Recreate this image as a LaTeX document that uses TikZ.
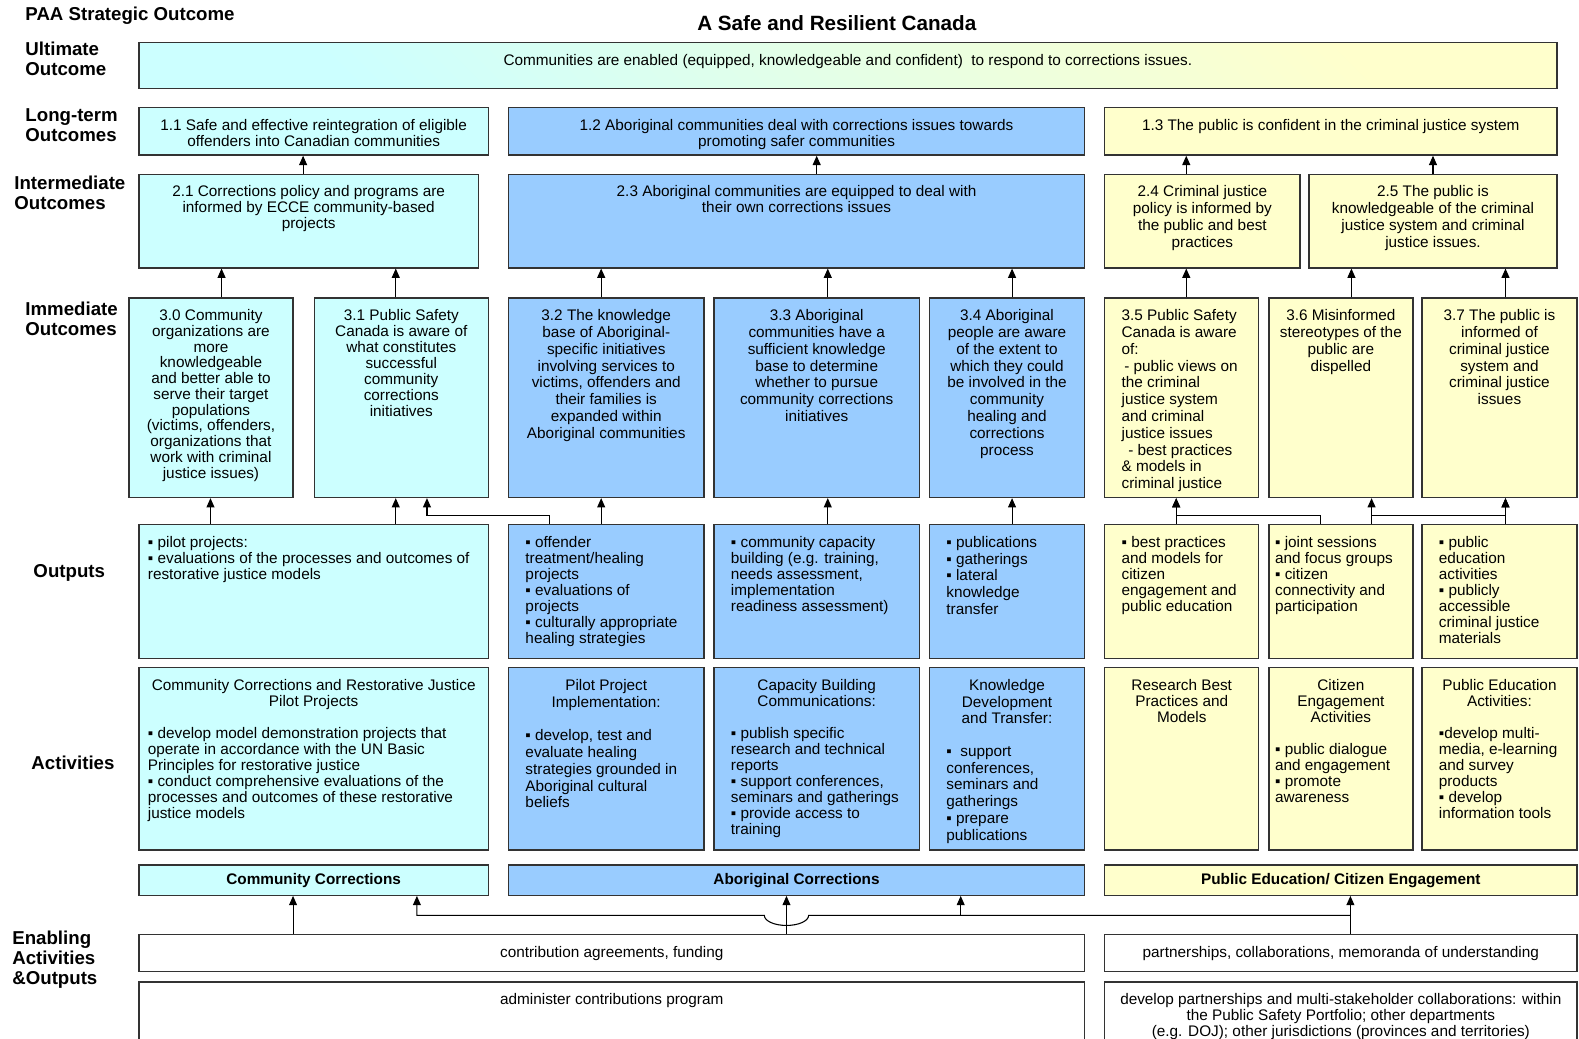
\documentclass[tikz,border=0pt]{standalone}
\usepackage{fontspec}
\setmainfont{Liberation Sans}
\usetikzlibrary{arrows.meta,fit}
\definecolor{cyanfill}{HTML}{CCFFFF}
\definecolor{bluefill}{HTML}{99CCFF}
\definecolor{yellowfill}{HTML}{FFFFCC}
\definecolor{edge}{HTML}{333333}

\begin{document}
\begin{tikzpicture}[x=0.7553pt,y=-0.7553pt,
  box/.style={draw=edge,line width=1pt,inner sep=0pt},
  cyanbox/.style={box,fill=cyanfill},
  bluebox/.style={box,fill=bluefill},
  yellowbox/.style={box,fill=yellowfill},
  plainbox/.style={box,fill=white},
  txt/.style={inner sep=0pt,font=\fontsize{11.5}{12}\selectfont},
  ctxt/.style={txt,align=center,anchor=north},
  ltxt/.style={txt,align=left,anchor=north west},
  loose/.style={font=\fontsize{11.5}{12.6}\selectfont},
  tight/.style={font=\fontsize{11.5}{11.8}\selectfont},
  prog/.style={txt,font=\fontsize{11.5}{12}\selectfont\bfseries},
  head/.style={inner sep=0pt,align=left,anchor=north west,font=\fontsize{14}{15}\selectfont\bfseries},
  arr/.style={line width=0.8pt,-{Triangle[width=6pt,length=7pt]}}]

\useasboundingbox[fill=white] (0,0) rectangle (1568,1031);

% Row labels
\node[head,anchor=west] (paa) at (25,16) {PAA Strategic Outcome};
\node[font=\fontsize{15.5}{17}\selectfont\bfseries,inner sep=0pt] (title) at (831,23) {A Safe and Resilient Canada};
\node[head] (lbult) at (25,41) {Ultimate\\Outcome};
\node[head] (lblong) at (25,108) {Long-term\\Outcomes};
\node[head] (lbinter) at (14,174) {Intermediate\\Outcomes};
\node[head] (lbimm) at (25,300) {Immediate\\Outcomes};
\node[head,anchor=west] (lbout) at (33,569) {Outputs};
\node[head,anchor=west] (lbact) at (31,758) {Activities};
\node[head] (lbenab) at (12,924) {Enabling\\Activities\\\&Outputs};

% Ultimate outcome
\node[box,top color=yellowfill,bottom color=cyanfill,shading angle=-45,fit={(138,42) (1546,88)}] (ult) {};
\node[ctxt] (ultt) at ([yshift=-9pt]ult.north) {Communities are enabled (equipped, knowledgeable and confident)\ \ to respond to corrections issues.};

% Long-term outcomes
\node[cyanbox,fit={(138,107) (485,154)}] (o11) {};
\node[ctxt] (o11t) at ([yshift=-9pt]o11.north) {1.1 Safe and effective reintegration of eligible\\offenders into Canadian communities};
\node[bluebox,fit={(505,107) (1077,154)}] (o12) {};
\node[ctxt] (o12t) at ([yshift=-9pt]o12.north) {1.2 Aboriginal communities deal with corrections issues towards\\promoting safer communities};
\node[yellowbox,fit={(1097,107) (1546,154)}] (o13) {};
\node[ctxt] (o13t) at ([yshift=-9pt]o13.north) {1.3 The public is confident in the criminal justice system};

% Intermediate outcomes
\node[cyanbox,fit={(138,173) (475,266)}] (o21) {};
\node[ctxt] (o21t) at ([yshift=-9pt]o21.north) {2.1 Corrections policy and programs are\\informed by ECCE community-based\\projects};
\node[bluebox,fit={(505,173) (1077,266)}] (o23) {};
\node[ctxt] (o23t) at ([yshift=-9pt]o23.north) {2.3 Aboriginal communities are equipped to deal with\\their own corrections issues};
\node[yellowbox,fit={(1097,173) (1291,266)}] (o24) {};
\node[ctxt,loose] (o24t) at ([yshift=-9pt]o24.north) {2.4 Criminal justice\\policy is informed by\\the public and best\\practices};
\node[yellowbox,fit={(1300,173) (1546,266)}] (o25) {};
\node[ctxt,loose] (o25t) at ([yshift=-9pt]o25.north) {2.5 The public is\\knowledgeable of the criminal\\justice system and criminal\\justice issues.};

% Immediate outcomes
\node[cyanbox,fit={(128,296) (291,494)}] (o30) {};
\node[ctxt,tight] (o30t) at ([yshift=-9pt]o30.north) {3.0 Community\\organizations are\\more\\knowledgeable\\and better able to\\serve their target\\populations\\(victims, offenders,\\organizations that\\work with criminal\\justice issues)};
\node[cyanbox,fit={(312,296) (485,494)}] (o31) {};
\node[ctxt] (o31t) at ([yshift=-9pt]o31.north) {3.1 Public Safety\\Canada is aware of\\what constitutes\\successful\\community\\corrections\\initiatives};
\node[bluebox,fit={(505,296) (699,494)}] (o32) {};
\node[ctxt,loose] (o32t) at ([yshift=-9pt]o32.north) {3.2 The knowledge\\base of Aboriginal-\\specific initiatives\\involving services to\\victims, offenders and\\their families is\\expanded within\\Aboriginal communities};
\node[bluebox,fit={(709,296) (913,494)}] (o33) {};
\node[ctxt,loose] (o33t) at ([yshift=-9pt]o33.north) {3.3 Aboriginal\\communities have a\\sufficient knowledge\\base to determine\\whether to pursue\\community corrections\\initiatives};
\node[bluebox,fit={(923,296) (1077,494)}] (o34) {};
\node[ctxt,loose] (o34t) at ([yshift=-9pt]o34.north) {3.4 Aboriginal\\people are aware\\of the extent to\\which they could\\be involved in the\\community\\healing and\\corrections\\process};
\node[yellowbox,fit={(1097,296) (1250,494)}] (o35) {};
\node[ltxt,loose] (o35t) at ([xshift=13pt,yshift=-9pt]o35.north west) {3.5 Public Safety\\Canada is aware\\of:\\\hspace{2pt}- public views on\\the criminal\\justice system\\and criminal\\justice issues\\\hspace{5pt}- best practices\\\& models in\\criminal justice};
\node[yellowbox,fit={(1260,296) (1403,494)}] (o36) {};
\node[ctxt,loose] (o36t) at ([yshift=-9pt]o36.north) {3.6 Misinformed\\stereotypes of the\\public are\\dispelled};
\node[yellowbox,fit={(1412,296) (1566,494)}] (o37) {};
\node[ctxt,loose] (o37t) at ([yshift=-9pt]o37.north) {3.7 The public is\\informed of\\criminal justice\\system and\\criminal justice\\issues};

% Outputs
\node[cyanbox,fit={(138,521) (485,654)}] (out1) {};
\node[ltxt] (out1t) at ([xshift=7pt,yshift=-9pt]out1.north west) {▪ pilot projects:\\▪ evaluations of the processes and outcomes of\\restorative justice models};
\node[bluebox,fit={(505,521) (699,654)}] (out2) {};
\node[ltxt] (out2t) at ([xshift=13pt,yshift=-9pt]out2.north west) {▪ offender\\treatment/healing\\projects\\▪ evaluations of\\projects\\▪ culturally appropriate\\healing strategies};
\node[bluebox,fit={(709,521) (913,654)}] (out3) {};
\node[ltxt] (out3t) at ([xshift=13pt,yshift=-9pt]out3.north west) {▪ community capacity\\building (e.g. training,\\needs assessment,\\implementation\\readiness assessment)};
\node[bluebox,fit={(923,521) (1077,654)}] (out4) {};
\node[ltxt,loose] (out4t) at ([xshift=13pt,yshift=-9pt]out4.north west) {▪ publications\\▪ gatherings\\▪ lateral\\knowledge\\transfer};
\node[yellowbox,fit={(1097,521) (1250,654)}] (out5) {};
\node[ltxt] (out5t) at ([xshift=13pt,yshift=-9pt]out5.north west) {▪ best practices\\and models for\\citizen\\engagement and\\public education};
\node[yellowbox,fit={(1260,521) (1403,654)}] (out6) {};
\node[ltxt] (out6t) at ([xshift=5pt,yshift=-9pt]out6.north west) {▪ joint sessions\\and focus groups\\▪ citizen\\connectivity and\\participation};
\node[yellowbox,fit={(1412,521) (1566,654)}] (out7) {};
\node[ltxt] (out7t) at ([xshift=13pt,yshift=-9pt]out7.north west) {▪ public\\education\\activities\\▪ publicly\\accessible\\criminal justice\\materials};

% Activities
\node[cyanbox,fit={(138,663) (485,844)}] (act1) {};
\node[ctxt] (act1h) at ([yshift=-9pt]act1.north) {Community Corrections and Restorative Justice\\Pilot Projects};
\node[ltxt] (act1b) at ([xshift=7pt,yshift=-45pt]act1.north west) {▪ develop model demonstration projects that\\operate in accordance with the UN Basic\\Principles for restorative justice\\▪ conduct comprehensive evaluations of the\\processes and outcomes of these restorative\\justice models};
\node[bluebox,fit={(505,663) (699,844)}] (act2) {};
\node[ctxt,loose] (act2h) at ([yshift=-9pt]act2.north) {Pilot Project\\Implementation:};
\node[ltxt,loose] (act2b) at ([xshift=13pt,yshift=-46.8pt]act2.north west) {▪ develop, test and\\evaluate healing\\strategies grounded in\\Aboriginal cultural\\beliefs};
\node[bluebox,fit={(709,663) (913,844)}] (act3) {};
\node[ctxt] (act3h) at ([yshift=-9pt]act3.north) {Capacity Building\\Communications:};
\node[ltxt] (act3b) at ([xshift=13pt,yshift=-45pt]act3.north west) {▪ publish specific\\research and technical\\reports\\▪ support conferences,\\seminars and gatherings\\▪ provide access to\\training};
\node[bluebox,fit={(923,663) (1077,844)}] (act4) {};
\node[ctxt,loose] (act4h) at ([yshift=-9pt]act4.north) {Knowledge\\Development\\and Transfer:};
\node[ltxt,loose] (act4b) at ([xshift=13pt,yshift=-59.4pt]act4.north west) {▪\ \ support\\conferences,\\seminars and\\gatherings\\▪ prepare\\publications};
\node[yellowbox,fit={(1097,663) (1250,844)}] (act5) {};
\node[ctxt] (act5h) at ([yshift=-9pt]act5.north) {Research Best\\Practices and\\Models};
\node[yellowbox,fit={(1260,663) (1403,844)}] (act6) {};
\node[ctxt] (act6h) at ([yshift=-9pt]act6.north) {Citizen\\Engagement\\Activities};
\node[ltxt] (act6b) at ([xshift=5pt,yshift=-57pt]act6.north west) {▪ public dialogue\\and engagement\\▪ promote\\awareness};
\node[yellowbox,fit={(1412,663) (1566,844)}] (act7) {};
\node[ctxt] (act7h) at ([yshift=-9pt]act7.north) {Public Education\\Activities:};
\node[ltxt] (act7b) at ([xshift=13pt,yshift=-45pt]act7.north west) {▪develop multi-\\media, e-learning\\and survey\\products\\▪ develop\\information tools};

% Programs
\node[cyanbox,fit={(138,859) (485,889)}] (cc) {};
\node[prog] (cct) at (cc) {Community Corrections};
\node[bluebox,fit={(505,859) (1077,889)}] (ac) {};
\node[prog] (act) at (ac) {Aboriginal Corrections};
\node[yellowbox,fit={(1097,859) (1566,889)}] (pe) {};
\node[prog] (pet) at (pe) {Public Education/ Citizen Engagement};

% Enabling activities and outputs
\node[plainbox,fit={(138,928) (1077,965)}] (agree) {};
\node[ctxt] (agreet) at ([yshift=-9pt]agree.north) {contribution agreements, funding};
\node[plainbox,fit={(1097,928) (1566,965)}] (partner) {};
\node[ctxt] (partnert) at ([yshift=-9pt]partner.north) {partnerships, collaborations, memoranda of understanding};
\node[plainbox,fit={(138,975) (1077,1050)}] (admin) {};
\node[ctxt] (admint) at ([yshift=-9pt]admin.north) {administer contributions program};
\node[plainbox,fit={(1097,975) (1566,1050)}] (develop) {};
\node[ctxt] (developt) at ([yshift=-9pt]develop.north) {develop partnerships and multi-stakeholder collaborations: within\\the Public Safety Portfolio; other departments\\(e.g. DOJ); other jurisdictions (provinces and territories)};

% Intermediate to long-term
\draw[arr] (301,0 |- o21.north) -- (301,0 |- o11.south);
\draw[arr] (811,0 |- o23.north) -- (811,0 |- o12.south);
\draw[arr] (1178,0 |- o24.north) -- (1178,0 |- o13.south);
\draw[arr] (1423,0 |- o25.north) -- (1423,0 |- o13.south);

% Immediate to intermediate
\draw[arr] (220,0 |- o30.north) -- (220,0 |- o21.south);
\draw[arr] (393,0 |- o31.north) -- (393,0 |- o21.south);
\draw[arr] (597,0 |- o32.north) -- (597,0 |- o23.south);
\draw[arr] (822,0 |- o33.north) -- (822,0 |- o23.south);
\draw[arr] (1005,0 |- o34.north) -- (1005,0 |- o23.south);
\draw[arr] (1178,0 |- o35.north) -- (1178,0 |- o24.south);
\draw[arr] (1342,0 |- o36.north) -- (1342,0 |- o25.south);
\draw[arr] (1495,0 |- o37.north) -- (1495,0 |- o25.south);

% Outputs to immediate
\draw[arr] (209,0 |- out1.north) -- (209,0 |- o30.south);
\draw[arr] (393,0 |- out1.north) -- (393,0 |- o31.south);
\draw[arr] (546,0 |- out2.north) -- ++(0,-8) -| (424,0 |- o31.south);
\draw[arr] (597,0 |- out2.north) -- (597,0 |- o32.south);
\draw[arr] (822,0 |- out3.north) -- (822,0 |- o33.south);
\draw[arr] (1005,0 |- out4.north) -- (1005,0 |- o34.south);
\draw[arr] (1168,0 |- out5.north) -- (1168,0 |- o35.south);
\draw[arr] (1311,0 |- out6.north) -- ++(0,-8) -| (1168,0 |- o35.south);
\draw[arr] (1362,0 |- out6.north) -- (1362,0 |- o36.south);
\draw[arr] (1362,0 |- out6.north) -- ++(0,-8) -| (1495,0 |- o37.south);
\draw[arr] (1495,0 |- out7.north) -- (1495,0 |- o37.south);

% Enabling outputs to programs
\draw[arr] (291,0 |- agree.north) -- (291,0 |- cc.south);
\draw[arr] (781,0 |- agree.north) -- (781,0 |- ac.south);
\draw[arr] (1341,0 |- partner.north) -- (1341,0 |- pe.south);
\coordinate (hub) at (1341,909);
\draw[arr] (hub) -- (803,909) arc[start angle=0,end angle=180,x radius=22,y radius=10] -| (414,0 |- cc.south);
\draw[arr] (954,909) -- (954,0 |- ac.south);

\end{tikzpicture}
\end{document}
